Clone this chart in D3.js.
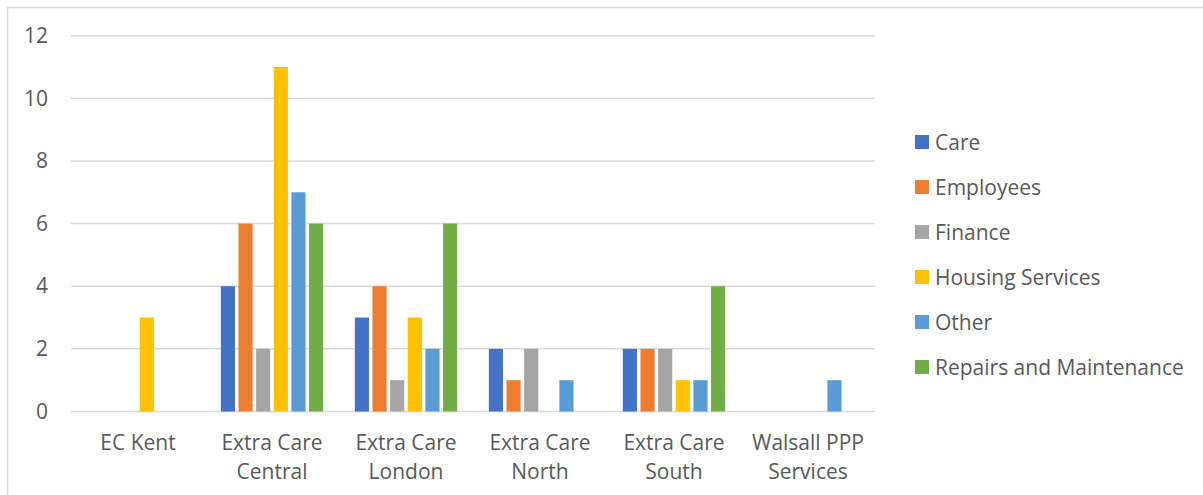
<!DOCTYPE html>
<html>
<head>
<meta charset="utf-8">
<script src="https://cdn.jsdelivr.net/npm/d3@7"></script>
<style>
  html, body { margin: 0; padding: 0; background: #fff; }
  svg { display: block; }
  text { font-family: "Open Sans", "Noto Sans", sans-serif; fill: #595959; }
</style>
</head>
<body>
<svg id="chart" width="1203" height="495"></svg>
<script>
// Complaint counts by scheme and topic
const categories = [
  ["EC Kent"],
  ["Extra Care", "Central"],
  ["Extra Care", "London"],
  ["Extra Care", "North"],
  ["Extra Care", "South"],
  ["Walsall PPP", "Services"]
];
const seriesNames = ["Care", "Employees", "Finance", "Housing Services", "Other", "Repairs and Maintenance"];
const seriesColors = ["#4472C4", "#ED7D31", "#A5A5A5", "#FFC000", "#5B9BD5", "#70AD47"];
const care            = [0, 4, 3, 2, 2, 0];
const employees       = [0, 6, 4, 1, 2, 0];
const finance         = [0, 2, 1, 2, 2, 0];
const housingServices = [3, 11, 3, 0, 1, 0];
const other           = [0, 7, 2, 1, 1, 1];
const repairs         = [0, 6, 6, 0, 4, 0];
const yTicks = [0, 2, 4, 6, 8, 10, 12];

const seriesValues = [care, employees, finance, housingServices, other, repairs];
const catKeys = categories.map(c => c.join(" "));
const fontSize = 21;

const svg = d3.select("#chart");

// outer chart border
svg.append("rect")
  .attr("x", 7.5).attr("y", 7.5)
  .attr("width", 1200).attr("height", 500)
  .attr("fill", "none").attr("stroke", "#D9D9D9").attr("stroke-width", 1.5);

const plot = { left: 71, right: 875, top: 35.7, bottom: 411.5 };

const x0 = d3.scaleBand()
  .domain(catKeys)
  .range([plot.left, plot.right])
  .paddingInner(0.21)
  .paddingOuter(0.105);

const x1 = d3.scaleBand()
  .domain(seriesNames)
  .range([0, x0.bandwidth()])
  .paddingInner(0.2)
  .paddingOuter(0.1);

const y = d3.scaleLinear().domain([0, 12]).range([plot.bottom, plot.top]);

// horizontal gridlines
svg.append("g")
  .selectAll("line")
  .data(yTicks)
  .join("line")
  .attr("x1", plot.left).attr("x2", plot.right)
  .attr("y1", d => y(d)).attr("y2", d => y(d))
  .attr("stroke", "#D9D9D9").attr("stroke-width", 1.5);

// y axis labels
const yAxis = d3.axisLeft(y).tickValues(yTicks).tickSize(0).tickPadding(0);
const yg = svg.append("g")
  .attr("transform", `translate(48,0)`)
  .call(yAxis);
yg.select(".domain").remove();
yg.selectAll("text")
  .attr("font-size", fontSize)
  .attr("font-family", "'Open Sans', sans-serif")
  .attr("fill", "#595959");

// bars
const groups = svg.append("g")
  .selectAll("g")
  .data(catKeys)
  .join("g")
  .attr("transform", d => `translate(${x0(d)},0)`);

groups.selectAll("rect")
  .data((d, i) => seriesNames.map((s, j) => ({ s, j, v: seriesValues[j][i] })).filter(e => e.v > 0))
  .join("rect")
  .attr("x", d => x1(d.s))
  .attr("width", x1.bandwidth())
  .attr("y", d => y(d.v))
  .attr("height", d => y(0) - y(d.v))
  .attr("fill", d => seriesColors[d.j]);

// category labels (two lines each)
const xLabels = svg.append("g")
  .selectAll("text")
  .data(categories)
  .join("text")
  .attr("text-anchor", "middle")
  .attr("font-size", fontSize)
  .attr("transform", (d, i) => `translate(${x0(catKeys[i]) + x0.bandwidth() / 2},450)`);
xLabels.selectAll("tspan")
  .data(d => d)
  .join("tspan")
  .attr("x", 0)
  .attr("y", (d, i) => i * 29)
  .text(d => d);

// legend
const legend = svg.append("g")
  .selectAll("g")
  .data(seriesNames)
  .join("g")
  .attr("transform", (d, i) => `translate(915,${135 + i * 45})`);
legend.append("rect")
  .attr("width", 14).attr("height", 14)
  .attr("fill", (d, i) => seriesColors[i]);
legend.append("text")
  .attr("x", 20).attr("y", 7)
  .attr("dy", "0.36em")
  .attr("font-size", fontSize)
  .text(d => d);
</script>
</body>
</html>
